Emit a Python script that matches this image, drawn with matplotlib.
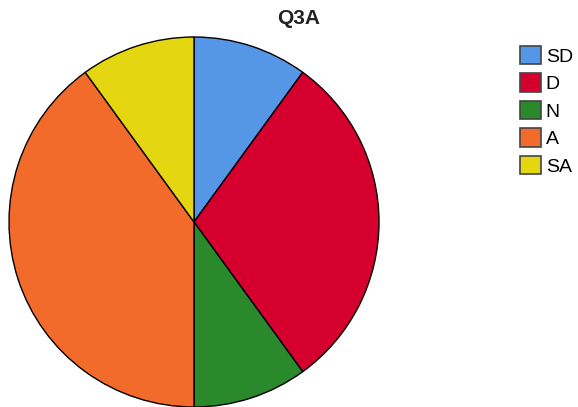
import matplotlib
matplotlib.use("Agg")
import matplotlib.pyplot as plt
from matplotlib.patches import Patch

# ── Data ──────────────────────────────────────────────────────────────────────
labels = ["SD", "D", "N", "A", "SA"]
shares = [10, 30, 10, 40, 10]
colors = ["#5597E6", "#D6002F", "#2A8A2B", "#F36B2B", "#E4D712"]

W, H = 578, 407
fig = plt.figure(figsize=(W / 100, H / 100), dpi=100)

# pie: centre (194, 222) px, radius 185 px
cx, cy, r = 194, 222, 185
ax = fig.add_axes([(cx - r) / W, (H - cy - r) / H, 2 * r / W, 2 * r / H])
ax.pie(shares, colors=colors, startangle=90, counterclock=False,
       wedgeprops=dict(edgecolor="black", linewidth=1.0))
ax.set_xlim(-1, 1)
ax.set_ylim(-1, 1)
ax.set_aspect("equal")
ax.axis("off")

fig.text(299 / W, 1 - 19 / H, "Q3A", ha="center", va="center",
         fontsize=15, fontweight="bold", color="#222222",
         family="Liberation Sans")

handles = [Patch(facecolor=c, edgecolor="#444444", linewidth=1.2) for c in colors]
fig.legend(handles, labels, loc="upper left",
           bbox_to_anchor=(504 / W, 1 - 30 / H), frameon=False,
           prop=dict(family="Liberation Sans", size=14),
           handlelength=1.1, handleheight=1.1, handletextpad=0.25,
           labelspacing=0.39, borderpad=0.3)

fig.savefig("out.png", dpi=100)
